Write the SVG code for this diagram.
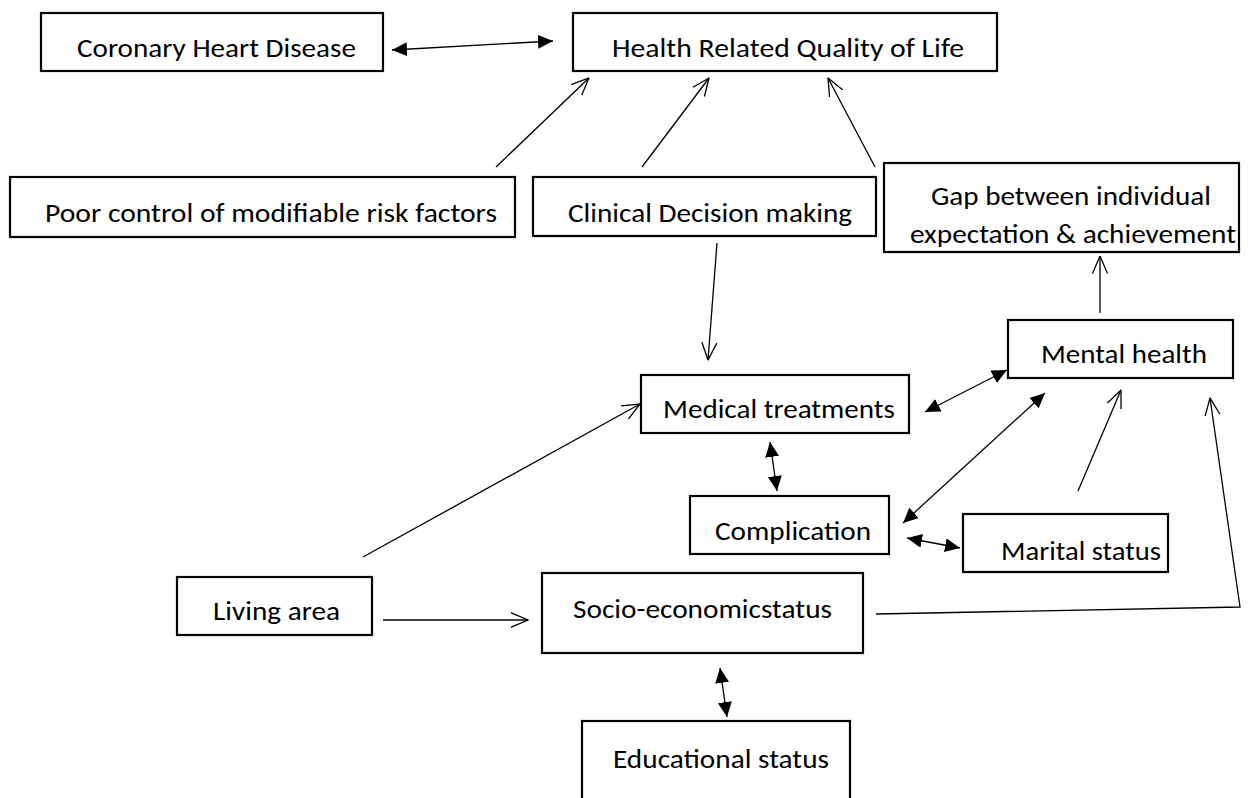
<svg xmlns="http://www.w3.org/2000/svg" width="1251" height="798" viewBox="0 0 1251 798">
<style>
.box{fill:#fff;stroke:#000;stroke-width:2.2}
.lbl{font-family:Calibri,Carlito,Lato,"Liberation Sans",sans-serif;font-size:26px;fill:#000}
.ln{stroke:#000;stroke-width:1.3;fill:none}
.open{marker-end:url(#openArrow)}
.dbl{marker-start:url(#solidArrow);marker-end:url(#solidArrow)}
</style>
<defs>
<marker id="openArrow" viewBox="0 0 18 18" refX="17.5" refY="9" markerWidth="18" markerHeight="18" markerUnits="userSpaceOnUse" orient="auto">
<path d="M0,1.5 L17.5,9 L0,16.5" fill="none" stroke="#000" stroke-width="1.3"/>
</marker>
<marker id="solidArrow" viewBox="0 0 15 14" refX="15" refY="7" markerWidth="15" markerHeight="14" markerUnits="userSpaceOnUse" orient="auto-start-reverse">
<path d="M0,0 L15,7 L0,14 Z" fill="#000"/>
</marker>
</defs>
<rect width="1251" height="798" fill="#fff"/>

<g id="connectors">
<line class="ln dbl" x1="392" y1="50" x2="553" y2="41"/>
<line class="ln open" x1="496" y1="167" x2="589" y2="78"/>
<line class="ln open" x1="642" y1="167" x2="709" y2="78"/>
<line class="ln open" x1="875" y1="167" x2="828" y2="78"/>
<line class="ln open" x1="717" y1="243" x2="708" y2="360"/>
<line class="ln open" x1="1100" y1="313" x2="1100" y2="256"/>
<line class="ln dbl" x1="925" y1="412" x2="1007" y2="370"/>
<line class="ln dbl" x1="903" y1="523" x2="1045" y2="393"/>
<line class="ln open" x1="1078" y1="491" x2="1121" y2="390"/>
<line class="ln dbl" x1="770" y1="442" x2="777" y2="491"/>
<line class="ln dbl" x1="907" y1="538" x2="960" y2="548"/>
<line class="ln open" x1="363" y1="557" x2="640" y2="404"/>
<line class="ln open" x1="383" y1="620" x2="528" y2="620"/>
<polyline class="ln open" points="876,614 1240,607 1210,398"/>
<line class="ln dbl" x1="720" y1="668" x2="727" y2="717"/>
</g>

<g id="node-chd">
<rect class="box" x="41" y="13" width="342" height="58"/>
<text class="lbl" x="77" y="57" textLength="279" lengthAdjust="spacingAndGlyphs">Coronary Heart Disease</text>
</g>
<g id="node-hrqol">
<rect class="box" x="573" y="13" width="424" height="58"/>
<text class="lbl" x="612" y="57" textLength="352" lengthAdjust="spacingAndGlyphs">Health Related Quality of Life</text>
</g>
<g id="node-poor">
<rect class="box" x="10" y="177" width="505" height="60"/>
<text class="lbl" x="45" y="222" textLength="452" lengthAdjust="spacingAndGlyphs">Poor control of modifiable risk factors</text>
</g>
<g id="node-clinical">
<rect class="box" x="533" y="177" width="343" height="59"/>
<text class="lbl" x="568" y="222" textLength="284" lengthAdjust="spacingAndGlyphs">Clinical Decision making</text>
</g>
<g id="node-gap">
<rect class="box" x="884" y="163" width="355" height="89"/>
<text class="lbl" x="931" y="205" textLength="280" lengthAdjust="spacingAndGlyphs">Gap between individual</text>
<text class="lbl" x="910" y="243" textLength="326" lengthAdjust="spacingAndGlyphs">expectation &amp; achievement</text>
</g>
<g id="node-mental">
<rect class="box" x="1008" y="320" width="225" height="58"/>
<text class="lbl" x="1041" y="363" textLength="166" lengthAdjust="spacingAndGlyphs">Mental health</text>
</g>
<g id="node-medical">
<rect class="box" x="641" y="375" width="268" height="58"/>
<text class="lbl" x="663" y="418" textLength="232" lengthAdjust="spacingAndGlyphs">Medical treatments</text>
</g>
<g id="node-complication">
<rect class="box" x="690" y="496" width="199" height="58"/>
<text class="lbl" x="715" y="540" textLength="156" lengthAdjust="spacingAndGlyphs">Complication</text>
</g>
<g id="node-marital">
<rect class="box" x="963" y="514" width="205" height="58"/>
<text class="lbl" x="1001" y="560" textLength="160" lengthAdjust="spacingAndGlyphs">Marital status</text>
</g>
<g id="node-living">
<rect class="box" x="177" y="577" width="195" height="58"/>
<text class="lbl" x="213" y="620" textLength="127" lengthAdjust="spacingAndGlyphs">Living area</text>
</g>
<g id="node-ses">
<rect class="box" x="542" y="573" width="321" height="80"/>
<text class="lbl" x="573" y="618" textLength="259" lengthAdjust="spacingAndGlyphs">Socio-economicstatus</text>
</g>
<g id="node-edu">
<rect class="box" x="582" y="721" width="268" height="82"/>
<text class="lbl" x="613" y="768" textLength="216" lengthAdjust="spacingAndGlyphs">Educational status</text>
</g>
</svg>
